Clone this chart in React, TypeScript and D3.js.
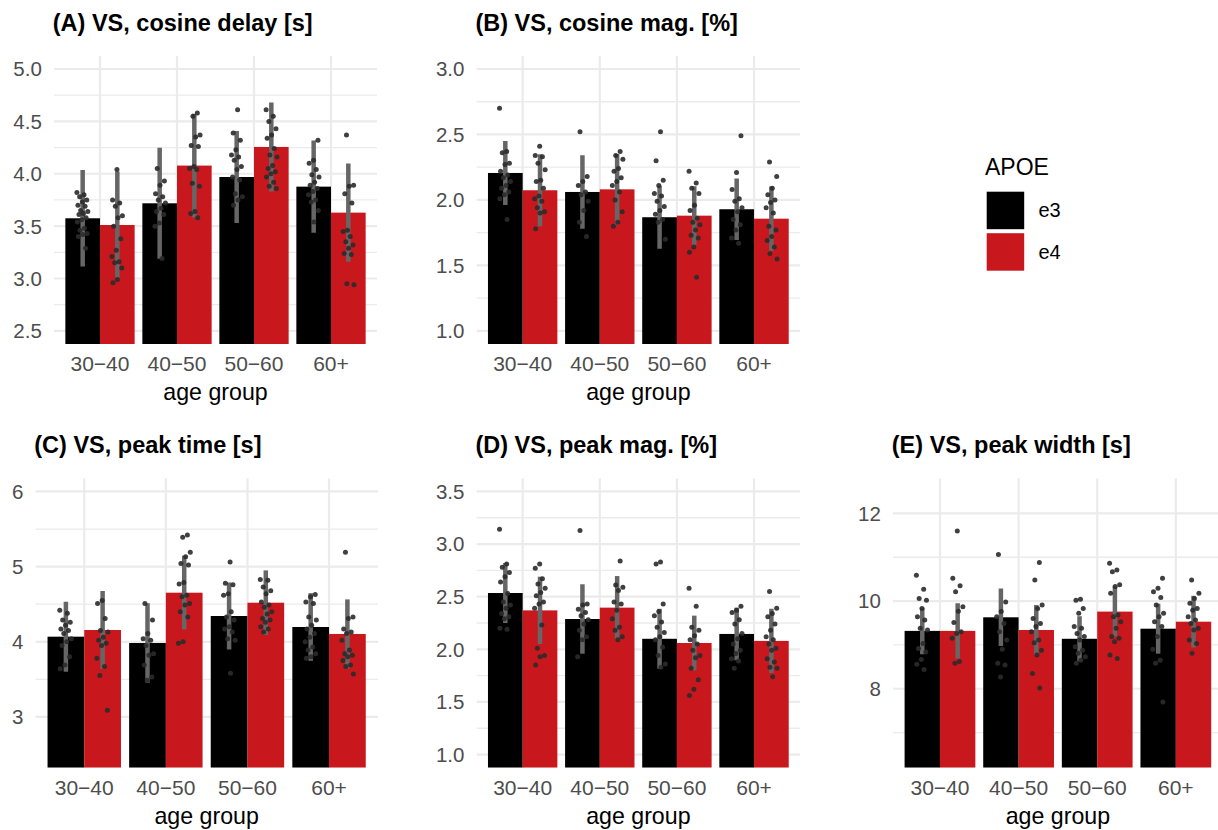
import React from 'react';
import * as d3 from 'd3';

// ---------- categories ----------
const ageGroups = ['30\u221240', '40\u221250', '50\u221260', '60+'];
const apoe = ['e3', 'e4'];
const apoeColors = ['#000000', '#C8181E'];
const legendTitle = 'APOE';
const xAxisTitle = 'age group';

// ---------- panel A ----------
const titleA = '(A) VS, cosine delay [s]';
const limitsA = [2.5, 5.0];
const breaksA = [2.5, 3.0, 3.5, 4.0, 4.5, 5.0];
const tickLabelsA = ['2.5', '3.0', '3.5', '4.0', '4.5', '5.0'];
const meanA = [[3.575, 3.511], [3.718, 4.078], [3.969, 4.256], [3.877, 3.629]];
const sdA = [[0.461, 0.51], [0.53, 0.495], [0.44, 0.425], [0.44, 0.47]];
const pointsA = [
  [[3.82, 3.80, 3.78, 3.75, 3.73, 3.70, 3.69, 3.65, 3.64, 3.62, 3.61, 3.58, 3.56, 3.54, 3.48, 3.46, 3.43, 3.42, 3.40, 3.29],
   [4.04, 3.75, 3.72, 3.69, 3.60, 3.58, 3.50, 3.38, 3.27, 3.21, 3.16, 3.15, 3.10, 2.99, 2.96]],
  [[4.05, 3.93, 3.89, 3.81, 3.78, 3.75, 3.72, 3.67, 3.64, 3.61, 3.53, 3.50, 3.19],
   [4.58, 4.55, 4.37, 4.35, 4.27, 4.26, 4.07, 4.05, 4.04, 3.91, 3.88, 3.64, 3.62, 3.58]],
  [[4.61, 4.39, 4.32, 4.23, 4.18, 4.16, 4.13, 4.07, 4.04, 3.97, 3.94, 3.81, 3.78, 3.75, 3.70],
   [4.61, 4.55, 4.50, 4.43, 4.37, 4.34, 4.24, 4.18, 4.16, 4.08, 4.05, 4.02, 4.00, 3.97, 3.92, 3.88, 3.86]],
  [[4.32, 4.13, 4.10, 4.04, 3.99, 3.97, 3.92, 3.89, 3.86, 3.83, 3.80, 3.75, 3.73, 3.65, 3.54],
   [4.37, 3.89, 3.88, 3.81, 3.72, 3.46, 3.45, 3.40, 3.35, 3.32, 3.29, 3.24, 3.23, 2.95, 2.94]],
];

// ---------- panel B ----------
const titleB = '(B) VS, cosine mag. [%]';
const limitsB = [1.0, 3.0];
const breaksB = [1.0, 1.5, 2.0, 2.5, 3.0];
const tickLabelsB = ['1.0', '1.5', '2.0', '2.5', '3.0'];
const meanB = [[2.206, 2.074], [2.061, 2.081], [1.868, 1.88], [1.929, 1.857]];
const sdB = [[0.245, 0.275], [0.28, 0.27], [0.24, 0.225], [0.235, 0.245]];
const pointsB = [
  [[2.70, 2.37, 2.36, 2.28, 2.27, 2.22, 2.19, 2.17, 2.14, 2.11, 2.09, 2.06, 2.04, 2.01, 1.85],
   [2.41, 2.34, 2.33, 2.28, 2.23, 2.15, 2.14, 2.09, 2.03, 2.01, 1.99, 1.94, 1.91, 1.90, 1.78]],
  [[2.52, 2.18, 2.14, 2.11, 2.06, 2.04, 1.99, 1.92, 1.83, 1.72],
   [2.37, 2.34, 2.31, 2.24, 2.22, 2.17, 2.14, 2.11, 2.06, 2.00, 1.91, 1.83, 1.80]],
  [[2.52, 2.30, 2.15, 2.11, 2.05, 2.03, 1.99, 1.95, 1.92, 1.89, 1.85, 1.83, 1.70],
   [2.22, 2.13, 2.09, 2.05, 1.96, 1.92, 1.86, 1.83, 1.81, 1.77, 1.73, 1.71, 1.64, 1.60, 1.41]],
  [[2.49, 2.21, 2.08, 2.01, 1.99, 1.94, 1.91, 1.85, 1.81, 1.77, 1.71, 1.67],
   [2.29, 2.18, 2.09, 2.04, 2.00, 1.98, 1.94, 1.90, 1.80, 1.77, 1.72, 1.69, 1.64, 1.59, 1.55]],
];

// ---------- panel C ----------
const titleC = '(C) VS, peak time [s]';
const limitsC = [2.5, 6.0];
const breaksC = [3, 4, 5, 6];
const tickLabelsC = ['3', '4', '5', '6'];
const meanC = [[4.068, 4.157], [3.984, 4.653], [4.343, 4.52], [4.197, 4.104]];
const sdC = [[0.465, 0.52], [0.53, 0.49], [0.445, 0.43], [0.45, 0.46]];
const pointsC = [
  [[4.42, 4.38, 4.29, 4.26, 4.22, 4.17, 4.15, 4.11, 4.04, 4.00, 3.95, 3.80, 3.69, 3.64],
   [4.55, 4.51, 4.31, 4.15, 4.13, 4.06, 4.02, 3.98, 3.95, 3.78, 3.67, 3.55, 3.09]],
  [[4.51, 4.29, 4.11, 4.04, 4.02, 3.95, 3.84, 3.82, 3.69, 3.53, 3.49],
   [5.42, 5.39, 5.19, 5.13, 5.04, 5.02, 4.79, 4.77, 4.62, 4.60, 4.51, 4.49, 4.40, 4.33, 4.00, 3.98]],
  [[5.06, 4.78, 4.76, 4.64, 4.62, 4.40, 4.33, 4.29, 4.20, 4.17, 4.13, 4.04, 4.02, 3.58],
   [4.83, 4.82, 4.73, 4.68, 4.64, 4.53, 4.49, 4.46, 4.40, 4.37, 4.31, 4.29, 4.26, 4.20, 4.17, 4.13]],
  [[4.63, 4.60, 4.53, 4.51, 4.33, 4.29, 4.22, 4.17, 4.11, 4.06, 4.00, 3.93, 3.89, 3.84, 3.80, 3.78],
   [5.19, 4.33, 4.31, 4.17, 4.13, 4.11, 4.02, 3.89, 3.84, 3.82, 3.80, 3.75, 3.69, 3.67, 3.57]],
];

// ---------- panel D ----------
const titleD = '(D) VS, peak mag. [%]';
const limitsD = [1.0, 3.5];
const breaksD = [1.0, 1.5, 2.0, 2.5, 3.0, 3.5];
const tickLabelsD = ['1.0', '1.5', '2.0', '2.5', '3.0', '3.5'];
const meanD = [[2.535, 2.37], [2.288, 2.396], [2.10, 2.06], [2.146, 2.08]];
const sdD = [[0.285, 0.32], [0.33, 0.3], [0.285, 0.26], [0.25, 0.305]];
const pointsD = [
  [[3.14, 2.81, 2.78, 2.73, 2.69, 2.64, 2.53, 2.45, 2.42, 2.39, 2.34, 2.31, 2.29, 2.20, 2.19],
   [2.81, 2.77, 2.67, 2.62, 2.58, 2.54, 2.51, 2.45, 2.43, 2.39, 2.23, 2.01, 1.94, 1.93, 1.85]],
  [[3.13, 2.43, 2.42, 2.38, 2.35, 2.32, 2.28, 2.24, 2.18, 2.12, 2.09, 1.93],
   [2.84, 2.61, 2.59, 2.56, 2.45, 2.43, 2.37, 2.29, 2.21, 2.18, 2.12, 2.09]],
  [[2.83, 2.81, 2.43, 2.36, 2.32, 2.26, 2.21, 2.16, 2.12, 2.09, 2.02, 1.94, 1.86, 1.83],
   [2.58, 2.41, 2.21, 2.18, 2.13, 2.09, 2.05, 1.99, 1.94, 1.92, 1.82, 1.71, 1.62, 1.56]],
  [[2.41, 2.37, 2.35, 2.28, 2.24, 2.15, 2.10, 2.05, 1.99, 1.96, 1.91, 1.89, 1.82],
   [2.55, 2.39, 2.34, 2.31, 2.24, 2.18, 2.12, 2.09, 2.05, 2.01, 1.99, 1.91, 1.88, 1.83, 1.82, 1.74]],
];

// ---------- panel E ----------
const titleE = '(E) VS, peak width [s]';
const limitsE = [6.5, 12.5];
const breaksE = [8, 10, 12];
const tickLabelsE = ['8', '10', '12'];
const minorBreaksE = [7, 9, 11];
const meanE = [[9.32, 9.32], [9.63, 9.34], [9.14, 9.76], [9.37, 9.53]];
const sdE = [[0.53, 0.63], [0.655, 0.57], [0.515, 0.57], [0.57, 0.59]];
const pointsE = [
  [[10.59, 10.27, 10.06, 10.02, 9.83, 9.64, 9.57, 9.38, 9.34, 9.03, 8.92, 8.84, 8.67, 8.56, 8.44],
   [11.60, 10.52, 10.35, 10.21, 9.87, 9.77, 9.51, 9.30, 9.26, 9.15, 8.62, 8.58]],
  [[11.06, 9.98, 9.76, 9.64, 9.49, 9.30, 9.11, 8.90, 8.58, 8.54, 8.27],
   [10.88, 10.48, 9.91, 9.83, 9.60, 9.49, 9.42, 9.30, 9.11, 9.05, 8.88, 8.77, 8.35, 8.02]],
  [[10.04, 10.02, 9.83, 9.72, 9.42, 9.38, 9.26, 9.19, 9.11, 8.96, 8.88, 8.81, 8.73, 8.65, 8.58],
   [10.86, 10.71, 10.67, 10.37, 10.33, 10.18, 9.68, 9.64, 9.53, 9.38, 9.19, 9.15, 9.07, 8.77, 8.69]],
  [[10.52, 10.29, 10.21, 10.08, 9.91, 9.72, 9.64, 9.53, 9.42, 9.19, 8.90, 8.65, 8.58, 7.70],
   [10.48, 10.18, 10.06, 9.95, 9.83, 9.79, 9.64, 9.57, 9.49, 9.38, 9.34, 9.11, 9.03, 8.81]],
];

const FONT = '"Liberation Sans", Arial, Helvetica, sans-serif';

type PanelSpec = {
  title: string; limits: number[]; breaks: number[]; labels: string[];
  minor?: number[]; mean: number[][]; sd: number[][]; points: number[][][];
  left: number; right: number; top: number; bottom: number; titleY: number;
};

const panels: PanelSpec[] = [
  { title: titleA, limits: limitsA, breaks: breaksA, labels: tickLabelsA, mean: meanA, sd: sdA, points: pointsA,
    left: 53.8, right: 377.2, top: 55.9, bottom: 344, titleY: 31 },
  { title: titleB, limits: limitsB, breaks: breaksB, labels: tickLabelsB, mean: meanB, sd: sdB, points: pointsB,
    left: 476.4, right: 800.3, top: 55.9, bottom: 344, titleY: 31 },
  { title: titleC, limits: limitsC, breaks: breaksC, labels: tickLabelsC, mean: meanC, sd: sdC, points: pointsC,
    left: 35.3, right: 378, top: 478.3, bottom: 767.7, titleY: 453 },
  { title: titleD, limits: limitsD, breaks: breaksD, labels: tickLabelsD, mean: meanD, sd: sdD, points: pointsD,
    left: 476.4, right: 800.3, top: 478.3, bottom: 767.7, titleY: 453 },
  { title: titleE, limits: limitsE, breaks: breaksE, labels: tickLabelsE, minor: minorBreaksE, mean: meanE, sd: sdE, points: pointsE,
    left: 892.8, right: 1223, top: 478.3, bottom: 767.7, titleY: 453 },
];

function Panel({ p, idx }: { p: PanelSpec; idx: number }) {
  const [lo, hi] = p.limits;
  const ext = (hi - lo) * 0.05;
  const y = d3.scaleLinear().domain([lo - ext, hi + ext]).range([p.bottom, p.top]);
  const x = d3.scalePoint<string>().domain(ageGroups).range([p.left, p.right]).padding(0.6);
  const step = x.step();
  const dodge = d3.scaleBand<string>().domain(apoe).range([-0.45 * step, 0.45 * step]);
  const bw = dodge.bandwidth();
  const minors = p.minor ?? d3.pairs(p.breaks).map(([a, b]) => (a + b) / 2);
  const jw = 0.075 * step;
  const clipId = `clip${idx}`;

  return (
    <g>
      <defs>
        <clipPath id={clipId}>
          <rect x={p.left} y={p.top} width={p.right - p.left} height={p.bottom - p.top} />
        </clipPath>
      </defs>
      <g clipPath={`url(#${clipId})`}>
        {minors.map((v) => (
          <line key={'mn' + v} x1={p.left} x2={p.right} y1={y(v)} y2={y(v)} stroke="#EBEBEB" strokeWidth={1.3} />
        ))}
        {p.breaks.map((v) => (
          <line key={'mj' + v} x1={p.left} x2={p.right} y1={y(v)} y2={y(v)} stroke="#EBEBEB" strokeWidth={2.2} />
        ))}
        {ageGroups.map((g) => (
          <line key={'vx' + g} x1={x(g)} x2={x(g)} y1={p.top} y2={p.bottom} stroke="#EBEBEB" strokeWidth={2.2} />
        ))}
        {ageGroups.map((g, gi) =>
          apoe.map((a, ai) => (
            <rect key={'bar' + g + a} x={(x(g) as number) + (dodge(a) as number)} width={bw}
              y={y(p.mean[gi][ai])} height={p.bottom - y(p.mean[gi][ai])} fill={apoeColors[ai]} />
          ))
        )}
        {ageGroups.map((g, gi) =>
          apoe.map((a, ai) => {
            const cx = (x(g) as number) + (dodge(a) as number) + bw / 2;
            const m = p.mean[gi][ai], s = p.sd[gi][ai];
            return (
              <line key={'err' + g + a} x1={cx} x2={cx} y1={y(m + s)} y2={y(m - s)} stroke="#666666" strokeWidth={4.5} />
            );
          })
        )}
        {ageGroups.map((g, gi) =>
          apoe.map((a, ai) => {
            const cx = (x(g) as number) + (dodge(a) as number) + bw / 2;
            return p.points[gi][ai].map((v, i) => {
              const u = ((i * 0.618034 + gi * 0.29 + ai * 0.47) % 1) - 0.5;
              return <circle key={'pt' + g + a + i} cx={cx + u * 2 * jw} cy={y(v)} r={2.5} fill="#2b2b2b" fillOpacity={0.9} />;
            });
          })
        )}
      </g>
      {p.breaks.map((v, i) => (
        <text key={'yl' + v} x={p.left - 12} y={y(v)} dy="0.36em" textAnchor="end" fontSize={20.5} fill="#4D4D4D" fontFamily={FONT}>
          {p.labels[i]}
        </text>
      ))}
      {ageGroups.map((g) => (
        <text key={'xl' + g} x={x(g)} y={p.bottom + 27} textAnchor="middle" fontSize={21} fill="#4D4D4D" fontFamily={FONT}>
          {g}
        </text>
      ))}
      <text x={(p.left + p.right) / 2} y={p.bottom + 56} textAnchor="middle" fontSize={23.2} fill="#000" fontFamily={FONT}>
        {xAxisTitle}
      </text>
      <text x={p.left - 1} y={p.titleY} fontSize={23.5} fontWeight="bold" fill="#000" fontFamily={FONT}>
        {p.title}
      </text>
    </g>
  );
}

export default function App() {
  const keySize = 37.5;
  const legendX = 986.7;
  const legendY = [191.7, 233.2];
  return (
    <svg width={1218} height={830} viewBox="0 0 1218 830"
      style={{ position: 'absolute', left: 0, top: 0, background: '#fff' }}>
      <rect x={0} y={0} width={1218} height={830} fill="#fff" />
      {panels.map((p, i) => <Panel key={i} p={p} idx={i} />)}
      <g>
        <text x={985} y={175} fontSize={23} fill="#000" fontFamily={FONT}>{legendTitle}</text>
        {apoe.map((a, i) => (
          <g key={a}>
            <rect x={legendX} y={legendY[i]} width={keySize} height={keySize} fill={apoeColors[i]} />
            <text x={1038.5} y={legendY[i] + keySize / 2} dy="0.35em" fontSize={20} fill="#000" fontFamily={FONT}>{a}</text>
          </g>
        ))}
      </g>
    </svg>
  );
}
